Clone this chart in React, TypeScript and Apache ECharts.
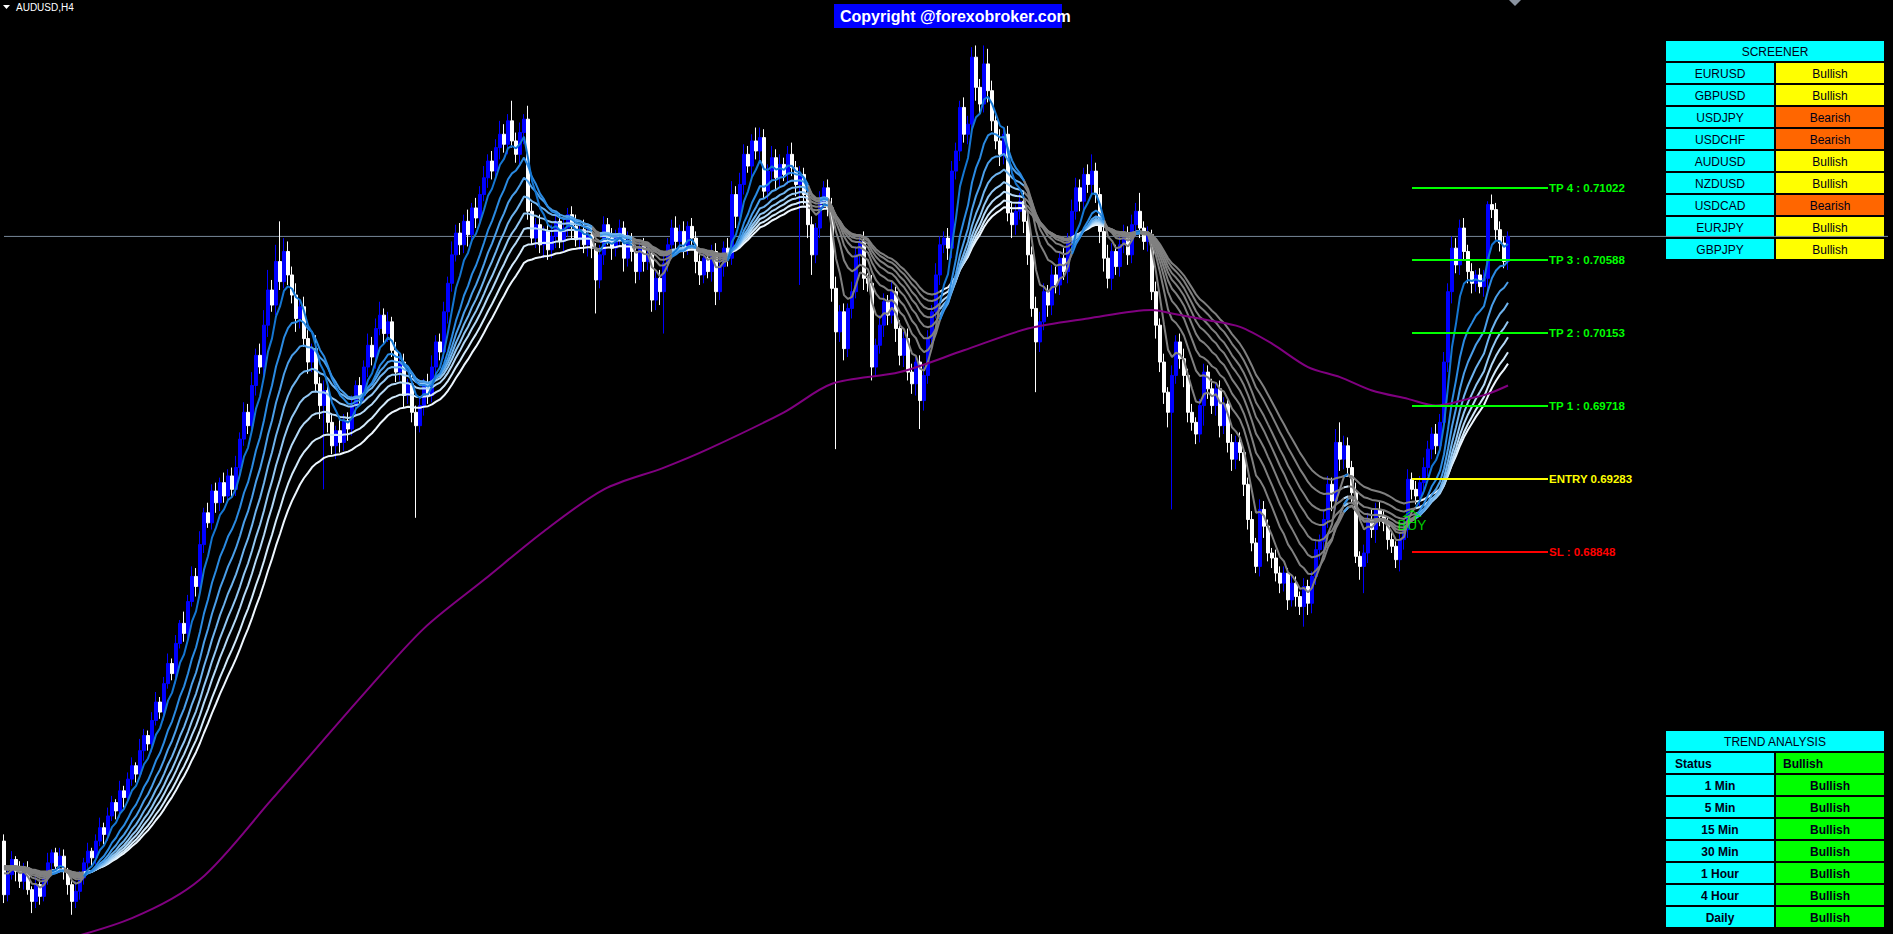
import { useEffect, useRef } from 'react';
import * as echarts from 'echarts';

// ---------- data (prices in pips: 6712 = 0.6712) ----------
const symbolTitle = 'AUDUSD,H4';
const copyrightText = 'Copyright @forexobroker.com';
const firstOpen = 6712;
const closes = [
  6680,6692,6701,6694,6688,6696,6683,6676,6686,6679,6690,6699,6705,6697,6703,6694,6686,6676,6682,6690,
  6699,6706,6702,6712,6720,6716,6727,6735,6730,6742,6738,6749,6757,6752,6766,6775,6770,6784,6795,6789,
  6806,6818,6812,6830,6842,6836,6855,6870,6864,6889,6908,6902,6921,6914,6926,6918,6930,6922,6935,6952,
  6968,6960,6984,7002,6995,7020,7041,7032,7058,7046,7064,7050,7038,7024,7031,7012,6998,7006,6985,6972,
  6981,6962,6948,6957,6950,6963,6958,6972,6984,6978,6995,7008,7001,7018,7026,7015,7022,7005,6992,6998,
  6978,6985,6968,6960,6972,6985,6978,6995,7010,7004,7028,7045,7062,7075,7068,7082,7074,7090,7084,7098,
  7108,7118,7112,7126,7134,7128,7142,7130,7122,7135,7143,7088,7072,7080,7068,7076,7065,7073,7082,7070,
  7078,7086,7079,7071,7077,7068,7074,7066,7047,7062,7080,7072,7066,7074,7078,7060,7070,7064,7052,7067,
  7058,7062,7035,7048,7040,7057,7068,7078,7070,7076,7066,7079,7072,7058,7050,7060,7052,7064,7040,7055,
  7066,7060,7098,7085,7104,7122,7115,7130,7124,7132,7100,7112,7120,7108,7116,7110,7122,7114,7104,7110,
  7098,7080,7062,7078,7094,7102,7090,7042,7016,7028,7006,7030,7040,7062,7070,7048,7045,6995,7008,7020,
  7034,7026,7040,7018,7002,7012,6992,6985,6998,6975,6990,7012,7028,7050,7068,7072,7066,7112,7124,7150,
  7134,7140,7180,7162,7152,7176,7160,7142,7130,7122,7134,7087,7080,7088,7094,7082,7062,7030,7010,7022,
  7040,7032,7050,7044,7060,7052,7070,7088,7102,7094,7110,7104,7112,7098,7076,7060,7048,7064,7055,7068,
  7075,7062,7080,7088,7078,7070,7074,7040,7020,6998,6980,6968,6990,7010,7000,6990,6968,6962,6955,6972,
  6992,6982,6972,6982,6960,6973,6950,6940,6950,6944,6925,6904,6890,6876,6910,6900,6884,6881,6872,6866,
  6872,6856,6866,6858,6852,6864,6854,6870,6886,6891,6904,6925,6915,6950,6940,6948,6935,6920,6882,6876,
  6884,6904,6898,6910,6906,6902,6892,6888,6880,6892,6898,6928,6922,6918,6926,6935,6946,6955,6948,6962,
  6998,7040,7066,7056,7078,7064,7052,7045,7050,7043,7048,7092,7089,7077,7069,7058,7073,
];
const upWicks = [
  4,3,5,2,6,3,4,2,5,3,4,6,2,3,5,4,2,3,6,4,
  3,5,2,4,6,3,5,4,2,6,3,4,5,2,7,4,3,5,6,3,
  4,6,3,5,2,7,4,6,5,8,3,6,4,5,3,6,4,5,7,4,
  6,5,8,4,7,9,12,6,10,24,8,6,5,7,4,6,5,3,8,4,
  6,4,5,3,7,4,5,6,3,5,4,7,5,6,8,4,6,3,5,4,
  5,3,6,4,5,3,6,7,4,5,6,4,8,5,6,4,7,3,6,5,
  7,4,6,5,8,6,4,12,5,6,3,8,5,4,6,3,5,7,4,5,
  6,4,5,7,3,6,4,5,3,6,5,4,6,3,5,4,6,5,4,3,
  5,6,3,4,5,6,4,5,7,4,6,3,5,4,6,5,3,4,5,6,
  4,6,8,5,7,6,5,4,8,6,5,4,7,5,6,4,5,7,4,5,
  4,6,5,3,6,4,5,6,7,4,5,3,6,5,4,6,3,5,4,6,
  5,4,6,3,5,4,6,5,3,4,6,5,4,7,5,4,6,6,5,4,
  6,5,6,7,5,11,9,6,5,7,4,5,6,4,5,6,4,5,7,6,
  5,4,6,5,4,6,5,7,6,5,4,6,10,5,4,6,8,5,4,6,
  5,4,6,5,11,4,5,3,6,4,5,3,6,4,5,6,4,5,3,4,
  5,4,6,3,5,4,3,5,4,6,3,4,5,3,6,5,4,3,5,4,
  4,3,5,4,3,5,4,3,5,4,6,5,4,8,12,6,5,4,6,3,
  5,4,6,4,5,3,4,5,3,4,5,6,4,5,4,6,5,4,6,5,
  6,5,7,6,5,6,4,5,3,4,5,2,6,4,5,4,3,
];
const downWicks = [
  5,4,3,6,4,5,3,7,4,5,3,4,6,3,4,5,6,8,4,5,
  4,3,5,4,3,6,4,3,5,4,6,3,4,5,3,6,4,5,3,4,
  5,3,4,6,3,5,4,3,6,4,5,3,4,6,5,4,3,5,4,6,
  4,5,3,6,4,5,7,4,6,5,4,6,5,8,6,5,7,6,5,8,
  50,6,5,8,6,5,7,4,6,5,4,6,5,7,4,6,5,4,6,5,
  7,5,6,55,4,6,5,4,6,5,4,7,5,4,6,5,7,4,6,5,
  4,6,5,4,7,5,6,4,5,6,7,5,4,6,5,8,6,5,7,4,
  6,5,7,4,6,5,7,6,20,5,6,4,7,5,6,8,5,6,7,5,
  6,5,7,6,8,25,5,6,7,5,6,4,5,7,6,5,4,6,8,5,
  6,5,4,7,5,6,4,7,5,6,4,5,6,7,5,4,6,5,7,60,
  6,8,12,5,6,4,5,8,70,6,7,5,6,4,6,7,5,8,6,5,
  7,6,5,8,6,7,5,6,7,17,6,5,7,4,6,5,7,6,5,6,
  5,6,5,8,6,5,7,6,5,7,6,5,8,6,5,7,6,5,30,6,
  5,7,6,5,6,5,7,6,5,6,7,5,6,5,7,8,6,7,5,6,
  5,6,5,7,6,5,6,5,8,6,7,9,58,5,6,7,6,5,6,5,
  12,6,5,6,7,5,6,7,6,5,7,6,5,4,6,7,5,6,5,6,
  5,6,4,6,5,12,7,6,5,6,7,5,6,5,7,6,5,6,4,8,
  16,6,5,8,6,5,6,4,5,7,6,5,6,5,6,7,5,6,5,4,
  5,6,7,5,6,5,7,6,5,4,6,7,5,6,5,4,5,
];
// moving-average ribbon (indicator periods) and its starting level
const emaPeriods = [6, 12, 17, 22, 27, 32, 38, 44];
const emaSeed = 6698;
// long moving average (purple): bar index -> pips
const longMaIndex = [10, 32, 49, 67, 90, 105, 120, 135, 150, 165, 176, 195, 207, 224, 240, 256, 271, 287, 292, 301, 309, 317, 326, 334, 342, 351, 358, 366, 371, 376];
const longMaValue = [6650, 6666, 6689, 6737, 6800, 6839, 6868, 6897, 6922, 6935, 6946, 6968, 6985, 6992, 7005, 7018, 7024, 7029, 7027, 7023, 7019, 7009, 6995, 6989, 6981, 6976, 6972, 6976, 6979, 6984];
// trade levels
const levelLabels = ['TP 4 : 0.71022', 'TP 3 : 0.70588', 'TP 2 : 0.70153', 'TP 1 : 0.69718', 'ENTRY 0.69283', 'SL : 0.68848'];
const levelValues = [0.71022, 0.70588, 0.70153, 0.69718, 0.69283, 0.68848];
const levelStartBar = 352;
const levelEndBar = 386;
const buyBar = 352;
const buyArrowPrice = 0.69058;
const buyTextPrice = 0.69008;
const buyText = 'BUY';
// panels
const screenerTitle = 'SCREENER';
const screenerPairs = ['EURUSD', 'GBPUSD', 'USDJPY', 'USDCHF', 'AUDUSD', 'NZDUSD', 'USDCAD', 'EURJPY', 'GBPJPY'];
const screenerSignals = ['Bullish', 'Bullish', 'Bearish', 'Bearish', 'Bullish', 'Bullish', 'Bearish', 'Bullish', 'Bullish'];
const trendTitle = 'TREND ANALYSIS';
const trendStatusLabel = 'Status';
const trendStatus = 'Bullish';
const trendFrames = ['1 Min', '5 Min', '15 Min', '30 Min', '1 Hour', '4 Hour', 'Daily'];
const trendSignals = ['Bullish', 'Bullish', 'Bullish', 'Bullish', 'Bullish', 'Bullish', 'Bullish'];
const totalSlots = 472;

// ---------- styles ----------
const FONT = 'Liberation Sans, Arial, sans-serif';
const W = 1893;
const H = 934;
const Y_MAX = 0.721414;
const Y_MIN = 0.665653;
const BULL = '#0000FF';
const BEAR = '#FFFFFF';
const GRAY = '#808080';
const BLUES = ['#1476D2', '#2A8AE2', '#4A9EE9', '#6EB3EE', '#92C7F3', '#B4D9F7', '#D3EAFB', '#EEF7FF'];
const LEVEL_COLORS = ['#00FF00', '#00FF00', '#00FF00', '#00FF00', '#FFFF00', '#FF0000'];
const TEXT_DARK = '#000018';
const CYAN = '#00FFFF';
const SIGNAL_COLORS: Record<string, string> = { Bullish: '#FFFF00', Bearish: '#FF6600' };
const GREEN = '#00FF00';

function buildGraphic() {
  const g: any[] = [];
  g.push({ type: 'polygon', shape: { points: [[3, 5], [10, 5], [6.5, 9]] }, style: { fill: '#FFFFFF' }, silent: true });
  g.push({ type: 'text', x: 16, y: 7, style: { text: symbolTitle, fill: '#FFFFFF', font: '10px ' + FONT, textVerticalAlign: 'middle' }, silent: true });
  g.push({ type: 'polygon', shape: { points: [[1509, 0], [1521, 0], [1515, 6]] }, style: { fill: '#8A93A0' }, silent: true });
  g.push({ type: 'rect', shape: { x: 834, y: 4, width: 228, height: 24 }, style: { fill: '#0000FF' }, silent: true });
  g.push({ type: 'text', x: 840, y: 16, style: { text: copyrightText, fill: '#FFFFFF', font: 'bold 16px ' + FONT, textVerticalAlign: 'middle' }, silent: true });

  const L = 1666, CW = 108, FULLW = 218, R = 1776, RH = 20, PITCH = 22;
  const cellText = (x: number, y: number, text: string, align: string, bold: boolean) => ({
    type: 'text', x, y, silent: true,
    style: { text, fill: TEXT_DARK, font: (bold ? 'bold ' : '') + '12px ' + FONT, textAlign: align, textVerticalAlign: 'middle' },
  });
  // screener
  const sTop = 41;
  g.push({ type: 'rect', shape: { x: L, y: sTop, width: FULLW, height: RH }, style: { fill: CYAN }, silent: true });
  g.push(cellText(L + FULLW / 2, sTop + RH / 2 + 1, screenerTitle, 'center', false));
  screenerPairs.forEach((p, k) => {
    const y = sTop + PITCH * (k + 1);
    g.push({ type: 'rect', shape: { x: L, y, width: CW, height: RH }, style: { fill: CYAN }, silent: true });
    g.push({ type: 'rect', shape: { x: R, y, width: CW, height: RH }, style: { fill: SIGNAL_COLORS[screenerSignals[k]] }, silent: true });
    g.push(cellText(L + CW / 2, y + RH / 2 + 1, p, 'center', false));
    g.push(cellText(R + CW / 2, y + RH / 2 + 1, screenerSignals[k], 'center', false));
  });
  // trend analysis
  const tTop = 731;
  g.push({ type: 'rect', shape: { x: L, y: tTop, width: FULLW, height: RH }, style: { fill: CYAN }, silent: true });
  g.push(cellText(L + FULLW / 2, tTop + RH / 2 + 1, trendTitle, 'center', false));
  const sy = tTop + PITCH;
  g.push({ type: 'rect', shape: { x: L, y: sy, width: CW, height: RH }, style: { fill: CYAN }, silent: true });
  g.push({ type: 'rect', shape: { x: R, y: sy, width: CW, height: RH }, style: { fill: GREEN }, silent: true });
  g.push(cellText(L + 9, sy + RH / 2 + 1, trendStatusLabel, 'left', true));
  g.push(cellText(R + 7, sy + RH / 2 + 1, trendStatus, 'left', true));
  trendFrames.forEach((f, k) => {
    const y = tTop + PITCH * (k + 2);
    g.push({ type: 'rect', shape: { x: L, y, width: CW, height: RH }, style: { fill: CYAN }, silent: true });
    g.push({ type: 'rect', shape: { x: R, y, width: CW, height: RH }, style: { fill: GREEN }, silent: true });
    g.push(cellText(L + CW / 2, y + RH / 2 + 1, f, 'center', true));
    g.push(cellText(R + CW / 2, y + RH / 2 + 1, trendSignals[k], 'center', true));
  });
  return g;
}

export default function App() {
  const ref = useRef<HTMLDivElement>(null);
  useEffect(() => {
    if (!ref.current) return;
    const chart = echarts.init(ref.current, null, { renderer: 'svg' });
    const P = (v: number) => v / 10000;
    const n = closes.length;
    const opens = closes.map((c, i) => (i === 0 ? firstOpen : closes[i - 1]));
    const candles = closes.map((c, i) => {
      const o = opens[i];
      return [P(o), P(c), P(Math.min(o, c) - downWicks[i]), P(Math.max(o, c) + upWicks[i])];
    });
    const cats = Array.from({ length: totalSlots }, (_, i) => String(i));

    // ribbon indicator computed from the candle closes
    const emas = emaPeriods.map((p) => {
      const k = 2 / (p + 1);
      let e = emaSeed;
      return closes.map((c) => {
        e += k * (c - e);
        return e;
      });
    });
    const fast = emas[0];
    const slow = emas[emas.length - 1];
    const bull = closes.map((_, i) => fast[i] > slow[i]);
    const ribbon: any[] = [];
    for (let j = emas.length - 1; j >= 0; j--) {
      const line = emas[j];
      const bearData = line.map((v, i) => (!bull[i] || (i + 1 < n && !bull[i + 1]) ? P(v) : null));
      ribbon.push({
        type: 'line', data: bearData, showSymbol: false, silent: true, connectNulls: false,
        lineStyle: { color: GRAY, width: 2 }, itemStyle: { color: GRAY }, z: 3,
      });
    }
    for (let j = emas.length - 1; j >= 0; j--) {
      const line = emas[j];
      const bullData = line.map((v, i) => (bull[i] || (i + 1 < n && bull[i + 1]) ? P(v) : null));
      ribbon.push({
        type: 'line', data: bullData, showSymbol: false, silent: true, connectNulls: false,
        lineStyle: { color: BLUES[j], width: 2 }, itemStyle: { color: BLUES[j] }, z: 3,
      });
    }

    const levelLines = levelValues.map((v, k) => [
      {
        coord: [levelStartBar, v],
        lineStyle: { color: LEVEL_COLORS[k], width: 2, type: 'solid' },
        label: {
          show: true, position: 'end', distance: 1, formatter: levelLabels[k], color: LEVEL_COLORS[k],
          fontFamily: FONT, fontSize: 11.5, fontWeight: 'bold',
        },
      },
      { coord: [levelEndBar, v] },
    ]);
    const bid = P(closes[n - 1]);

    chart.setOption({
      animation: false,
      backgroundColor: '#000000',
      grid: { left: 2, top: 0, width: 1888, height: H },
      xAxis: { type: 'category', data: cats, show: false, boundaryGap: true },
      yAxis: { type: 'value', min: Y_MIN, max: Y_MAX, show: false, splitLine: { show: false } },
      graphic: buildGraphic(),
      series: [
        {
          // current bid line
          type: 'line',
          data: [[0, bid], [totalSlots - 1, bid]],
          showSymbol: false, silent: true,
          lineStyle: { color: '#778899', width: 1 }, itemStyle: { color: '#778899' }, z: 1,
        },
        {
          type: 'candlestick',
          data: candles,
          barWidth: 2.6,
          silent: true,
          itemStyle: { color: BULL, borderColor: BULL, color0: BEAR, borderColor0: BEAR, borderWidth: 1 },
          z: 2,
          markLine: {
            silent: true, symbol: 'none', animation: false,
            data: levelLines,
          },
        },
        ...ribbon,
        {
          type: 'line',
          data: longMaIndex.map((x, k) => [x, P(longMaValue[k])]),
          showSymbol: false, silent: true, smooth: 0.3,
          lineStyle: { color: '#800080', width: 2 }, itemStyle: { color: '#800080' }, z: 4,
        },
        {
          type: 'scatter',
          data: [[buyBar, buyArrowPrice]],
          symbol: 'path://M6,0L12,6L8.5,6L8.5,12L3.5,12L3.5,6L0,6Z',
          symbolSize: [16, 12], silent: true, z: 6,
          itemStyle: { color: 'rgba(0,0,0,0)', borderColor: GREEN, borderWidth: 1.2 },
        },
        {
          type: 'scatter',
          data: [[buyBar, buyTextPrice]],
          symbolSize: 1, silent: true, z: 7,
          itemStyle: { color: 'rgba(0,0,0,0)' },
          label: { show: true, position: 'inside', formatter: buyText, color: GREEN, fontFamily: FONT, fontSize: 14 },
        },
      ],
    });
    return () => chart.dispose();
  }, []);
  return <div ref={ref} style={{ position: 'fixed', left: 0, top: 0, width: W, height: H, background: '#000' }} />;
}
